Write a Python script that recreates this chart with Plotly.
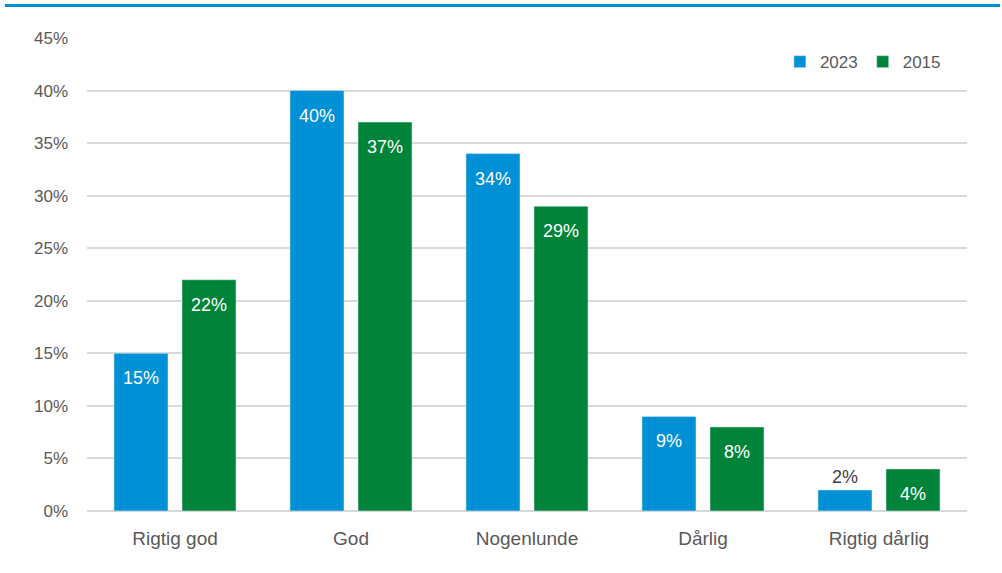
import plotly.graph_objects as go

categories = ["Rigtig god", "God", "Nogenlunde", "Dårlig", "Rigtig dårlig"]
values_2023 = [15, 40, 34, 9, 2]
values_2015 = [22, 37, 29, 8, 4]
tick_vals = [0, 5, 10, 15, 20, 25, 30, 35, 40, 45]
tick_text = [f"{v}%" for v in tick_vals]

BLUE = "#0090D6"
GREEN = "#00843A"
FONT = "Liberation Sans, Arial, sans-serif"

fig = go.Figure()
series = [("2023", values_2023, BLUE, -34), ("2015", values_2015, GREEN, 34)]
for name, vals, col, _ in series:
    fig.add_trace(go.Bar(name=name, x=categories, y=vals, marker_color=col,
                         hoverinfo="skip"))

# value labels, placed at each bar's value through the axes
annotations = []
for name, vals, col, dx in series:
    for cat, v in zip(categories, vals):
        inside = v >= 3
        annotations.append(dict(
            x=cat, y=v, xref="x", yref="y", text=f"{v}%", showarrow=False,
            xshift=dx, yshift=-25 if inside else 13, yanchor="middle",
            font=dict(family=FONT, size=18, color="white" if inside else "#404040"),
        ))

fig.update_layout(
    width=1002, height=573,
    margin=dict(l=87, r=35, t=38, b=62, autoexpand=False),
    paper_bgcolor="white", plot_bgcolor="white",
    barmode="group", bargap=0.227, bargroupgap=0.206,
    font=dict(family=FONT, color="#595959", size=17),
    legend=dict(orientation="h", x=0.976, xanchor="right", y=0.949, yanchor="middle",
                font=dict(family=FONT, size=17, color="#595959"), traceorder="normal",
                itemwidth=30, bgcolor="rgba(0,0,0,0)"),
    showlegend=True,
    annotations=annotations,
    shapes=[dict(type="line", xref="paper", yref="paper", x0=-0.0932, x1=1.0375,
                 y0=1.0687, y1=1.0687, line=dict(color=BLUE, width=3))],
)
fig.update_yaxes(range=[0, 45], tickvals=tick_vals, ticktext=tick_text,
                 showgrid=True, gridcolor="#D9D9D9", gridwidth=1.5,
                 zeroline=True, zerolinecolor="#D9D9D9", zerolinewidth=1.5,
                 automargin=False,
                 ticks="", ticklabelstandoff=18, tickfont=dict(family=FONT, size=17, color="#595959"))
fig.update_xaxes(showline=False, ticks="", ticklabelstandoff=14, automargin=False,
                 tickfont=dict(family=FONT, size=19, color="#595959"))

fig.write_html("out.html", config={"displayModeBar": False},
               post_script="document.body.style.margin='0';")
